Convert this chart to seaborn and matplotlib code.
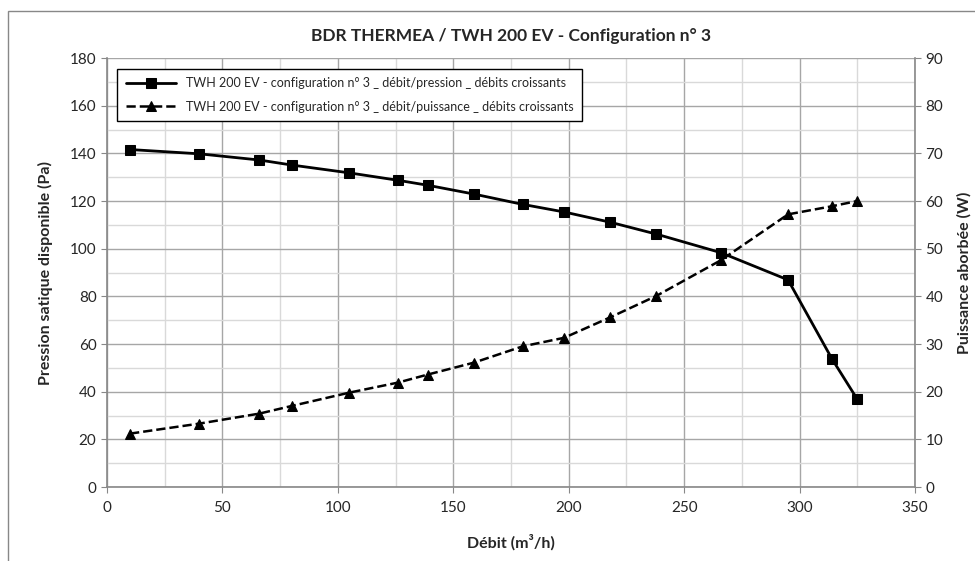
import numpy as np
import pandas as pd
import matplotlib.pyplot as plt
import matplotlib.patches as mpatches
from matplotlib.ticker import MultipleLocator
import seaborn as sns

# data
debit = [10, 40, 66, 80, 105, 126, 139, 159, 180, 198, 218, 238, 266, 295, 314, 325]
pression = [141.6, 139.8, 137.2, 135.1, 131.8, 128.7, 126.6, 122.9, 118.6, 115.4, 111.1, 106.1, 98.3, 86.9, 53.8, 36.8]
puissance = [11.2, 13.3, 15.4, 17.0, 19.8, 21.9, 23.6, 26.1, 29.5, 31.3, 35.6, 40.1, 47.6, 57.2, 58.9, 60.0]

label_p = "TWH 200 EV - configuration n° 3 _ débit/pression _ débits croissants"
label_w = "TWH 200 EV - configuration n° 3 _ débit/puissance _ débits croissants"

df = pd.DataFrame({"debit": debit, "pression": pression, "puissance": puissance})

sns.set_style("white")
plt.rcParams['font.family'] = ['Lato', 'DejaVu Sans']

fig = plt.figure(figsize=(9.75, 5.61), dpi=100)
ax = fig.add_axes([0.1097, 0.1319, 0.8288, 0.7647])
ax2 = ax.twinx()

# outer chart frame
fig.patches.append(mpatches.Rectangle((0.008, -0.01), 1.0, 0.99, transform=fig.transFigure,
                                      fill=False, edgecolor='#888888', linewidth=1.0))

sns.lineplot(data=df, x="debit", y="pression", ax=ax, color='black', linewidth=2,
             marker='s', markersize=7, markeredgecolor='black', label=label_p, legend=False)
sns.lineplot(data=df, x="debit", y="puissance", ax=ax2, color='black', linewidth=1.8,
             linestyle='--', marker='^', markersize=6.5, markeredgecolor='black', label=label_w, legend=False)

ax.set_xlim(0, 350)
ax.set_ylim(0, 180)
ax2.set_ylim(0, 90)
ax.xaxis.set_major_locator(MultipleLocator(50))
ax.xaxis.set_minor_locator(MultipleLocator(25))
ax.yaxis.set_major_locator(MultipleLocator(20))
ax.yaxis.set_minor_locator(MultipleLocator(10))
ax2.yaxis.set_major_locator(MultipleLocator(10))

ax.grid(which='major', color='#a6a6a6', linewidth=1.0)
ax.grid(which='minor', color='#d9d9d9', linewidth=1.0)
ax.set_axisbelow(True)

for a in (ax, ax2):
    for s in a.spines.values():
        s.set_visible(False)
ax.spines['left'].set_visible(True)
ax.spines['bottom'].set_visible(True)
ax2.spines['right'].set_visible(True)
for s in (ax.spines['left'], ax.spines['bottom'], ax2.spines['right']):
    s.set_color('#888888')
    s.set_linewidth(1.2)

ax.tick_params(axis='both', which='major', labelsize=11, length=4, color='#888888', direction='out')
ax.tick_params(axis='both', which='minor', length=0)
ax.tick_params(axis='x', pad=6)
ax.tick_params(axis='y', left=True)
ax2.tick_params(axis='y', labelsize=11, length=4, color='#888888', right=True)
ax.tick_params(axis='x', bottom=True)

ax.set_xlabel("Débit (m³/h)", fontsize=11.5, fontweight='bold', labelpad=14)
ax.set_ylabel("Pression satique disponible (Pa)", fontsize=11.5, fontweight='bold', labelpad=12)
ax2.set_ylabel("Puissance aborbée (W)", fontsize=11.5, fontweight='bold', labelpad=10)
ax.set_title("BDR THERMEA / TWH 200 EV - Configuration n° 3", fontsize=12.5, fontweight='bold', pad=12)

handles = ax.get_lines()[:1] + ax2.get_lines()[:1]
leg = ax2.legend(handles, [label_p, label_w], loc='upper left', bbox_to_anchor=(0.005, 0.99),
                 fontsize=9, frameon=True, fancybox=False, edgecolor='black', framealpha=1,
                 handlelength=4, borderpad=0.7, labelspacing=0.9)
leg.get_frame().set_linewidth(1.0)

plt.savefig("out.png", dpi=100)
plt.close()
